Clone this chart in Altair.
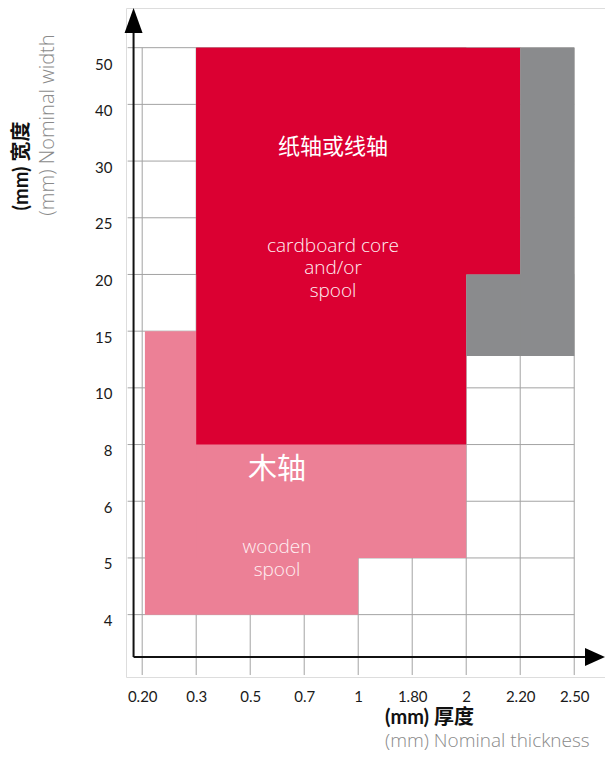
import altair as alt
import pandas as pd

# ---- data ----
x_labels = ["0.20", "0.3", "0.5", "0.7", "1", "1.80", "2", "2.20", "2.50"]
y_labels = ["4", "5", "6", "8", "10", "15", "20", "25", "30", "40", "50"]

# regions as (overlapping) spans over tick index positions
region_kind = ["wood", "wood", "card", "card", "other", "other"]
region_x1 = [0.05, 1, 1, 1, 6, 7]
region_x2 = [4, 6, 6, 7, 8, 8]
region_y1 = [0, 1, 3, 6, 4.56, 4.56]
region_y2 = [5, 3, 10, 10, 6, 10]

red_label_cn = "纸轴或线轴"
red_label_en = ["cardboard core", "and/or", "spool"]
pink_label_cn = "木轴"
pink_label_en = ["wooden", "spool"]
y_title_cn = "(mm) 宽度"
y_title_en = "(mm) Nominal width"
x_title_cn = "(mm) 厚度"
x_title_en = "(mm) Nominal thickness"

# ---- frames ----
regions = pd.DataFrame({"kind": region_kind, "x1": region_x1, "x2": region_x2,
                        "y1": region_y1, "y2": region_y2})
xt = pd.DataFrame({"i": list(range(len(x_labels))), "lab": x_labels})
yt = pd.DataFrame({"j": list(range(len(y_labels))), "lab": y_labels})

XD = [-0.3, 8.57]
YD = [-1.1, 10.7]
xs = alt.Scale(domain=XD, nice=False, zero=False)
ys = alt.Scale(domain=YD, nice=False, zero=False)

GRID = "#a3a3a3"
LATIN = "Lato, 'Noto Sans CJK SC', sans-serif"
LIGHT = "'Open Sans', 'Noto Sans', 'Noto Sans CJK SC', sans-serif"
CJK = "'Noto Sans CJK SC', sans-serif"

x_lab_expr = "[" + ",".join("'%s'" % s for s in x_labels) + "][datum.value]"
y_lab_expr = "[" + ",".join("'%s'" % s for s in y_labels) + "][datum.value]"

base_axes = alt.Chart(xt).mark_point(opacity=0).encode(
    x=alt.X("i:Q", scale=xs, axis=alt.Axis(
        orient="bottom", values=list(range(len(x_labels))), labelExpr=x_lab_expr,
        ticks=False, domain=False, grid=False, title=None,
        labelFont=LATIN, labelFontSize=15, labelColor="#1a1a1a",
        labelPadding=12, labelBaseline="top")),
    y=alt.Y("i:Q", scale=ys, axis=alt.Axis(
        orient="left", values=list(range(len(y_labels))), labelExpr=y_lab_expr,
        ticks=False, domain=False, grid=False, title=None,
        labelFont=LATIN, labelFontSize=15, labelColor="#1a1a1a",
        labelPadding=14,
        labelOffset=alt.condition("datum.value == 10", alt.value(17), alt.value(6)))),
)

hgrid = alt.Chart(yt).mark_rule(color=GRID, strokeWidth=1).encode(
    y=alt.Y("j:Q", scale=ys), x=alt.datum(-0.27, scale=xs), x2=alt.datum(8))
vgrid = alt.Chart(xt).mark_rule(color=GRID, strokeWidth=1).encode(
    x=alt.X("i:Q", scale=xs), y=alt.datum(-1.065, scale=ys), y2=alt.datum(10))

rects = alt.Chart(regions).mark_rect().encode(
    x=alt.X("x1:Q", scale=xs), x2="x2:Q",
    y=alt.Y("y1:Q", scale=ys), y2="y2:Q",
    color=alt.Color("kind:N", legend=None, scale=alt.Scale(
        domain=["wood", "card", "other"], range=["#ec8096", "#db0032", "#8a8b8d"])),
)

yaxis = alt.Chart(xt.head(1)).mark_rule(color="#111", strokeWidth=2).encode(
    x=alt.datum(-0.16, scale=xs), y=alt.datum(-0.748, scale=ys), y2=alt.datum(10.4))
xaxis = alt.Chart(xt.head(1)).mark_rule(color="#111", strokeWidth=2).encode(
    y=alt.datum(-0.748, scale=ys), x=alt.datum(-0.16, scale=xs), x2=alt.datum(8.3))
up_arrow = alt.Chart(xt.head(1)).mark_point(
    shape="M0,-1L0.72,1L-0.72,1Z", filled=True, color="#000", size=625, opacity=1).encode(
    x=alt.datum(-0.16, scale=xs), y=alt.datum(10.48, scale=ys))
right_arrow = alt.Chart(xt.head(1)).mark_point(
    shape="M1,0L-1,-0.9L-1,0.9Z", filled=True, color="#000", size=400, opacity=1).encode(
    x=alt.datum(8.385, scale=xs), y=alt.datum(-0.748, scale=ys))

def label(txt, px, py, **kw):
    return alt.Chart(pd.DataFrame({"t": [txt]})).mark_text(**kw).encode(
        text="t", x=alt.value(px - 126), y=alt.value(py - 8))

texts = [
    label(red_label_cn, 333, 147, font=CJK, fontSize=22, fontWeight=400, color="white"),
    label(red_label_en[0], 333, 245.5, font=LIGHT, fontSize=19, fontWeight=300, color="#fff0f3"),
    label(red_label_en[1], 333, 268, font=LIGHT, fontSize=19, fontWeight=300, color="#fff0f3"),
    label(red_label_en[2], 333, 290.5, font=LIGHT, fontSize=19, fontWeight=300, color="#fff0f3"),
    label(pink_label_cn, 277, 470, font=CJK, fontSize=29, fontWeight=400, color="white"),
    label(pink_label_en[0], 277, 547, font=LIGHT, fontSize=19, fontWeight=300, color="#fff0f3"),
    label(pink_label_en[1], 277, 570, font=LIGHT, fontSize=19, fontWeight=300, color="#fff0f3"),
    label(y_title_cn, 22, 166, font=LATIN, fontSize=20, fontWeight="bold",
          color="#111", angle=270),
    label(y_title_en, 48, 125, font=LIGHT, fontSize=20, fontWeight=300,
          color="#8a8a8a", angle=270),
    label(x_title_cn, 385, 718, font=LATIN, fontSize=20, fontWeight="bold",
          color="#111", align="left"),
    label(x_title_en, 385, 741, font=LIGHT, fontSize=19, fontWeight=300,
          color="#8a8a8a", align="left"),
]

chart = alt.layer(
    base_axes, vgrid, hgrid, rects, yaxis, xaxis, up_arrow, right_arrow, *texts,
).properties(
    width=479, height=669,
    autosize=alt.AutoSizeParams(type="none"),
    padding={"left": 118, "top": 0, "right": 0, "bottom": 77},
).configure_view(stroke=None).configure(background="white")

chart.save("out.html", embed_options={"renderer": "svg", "actions": False})
